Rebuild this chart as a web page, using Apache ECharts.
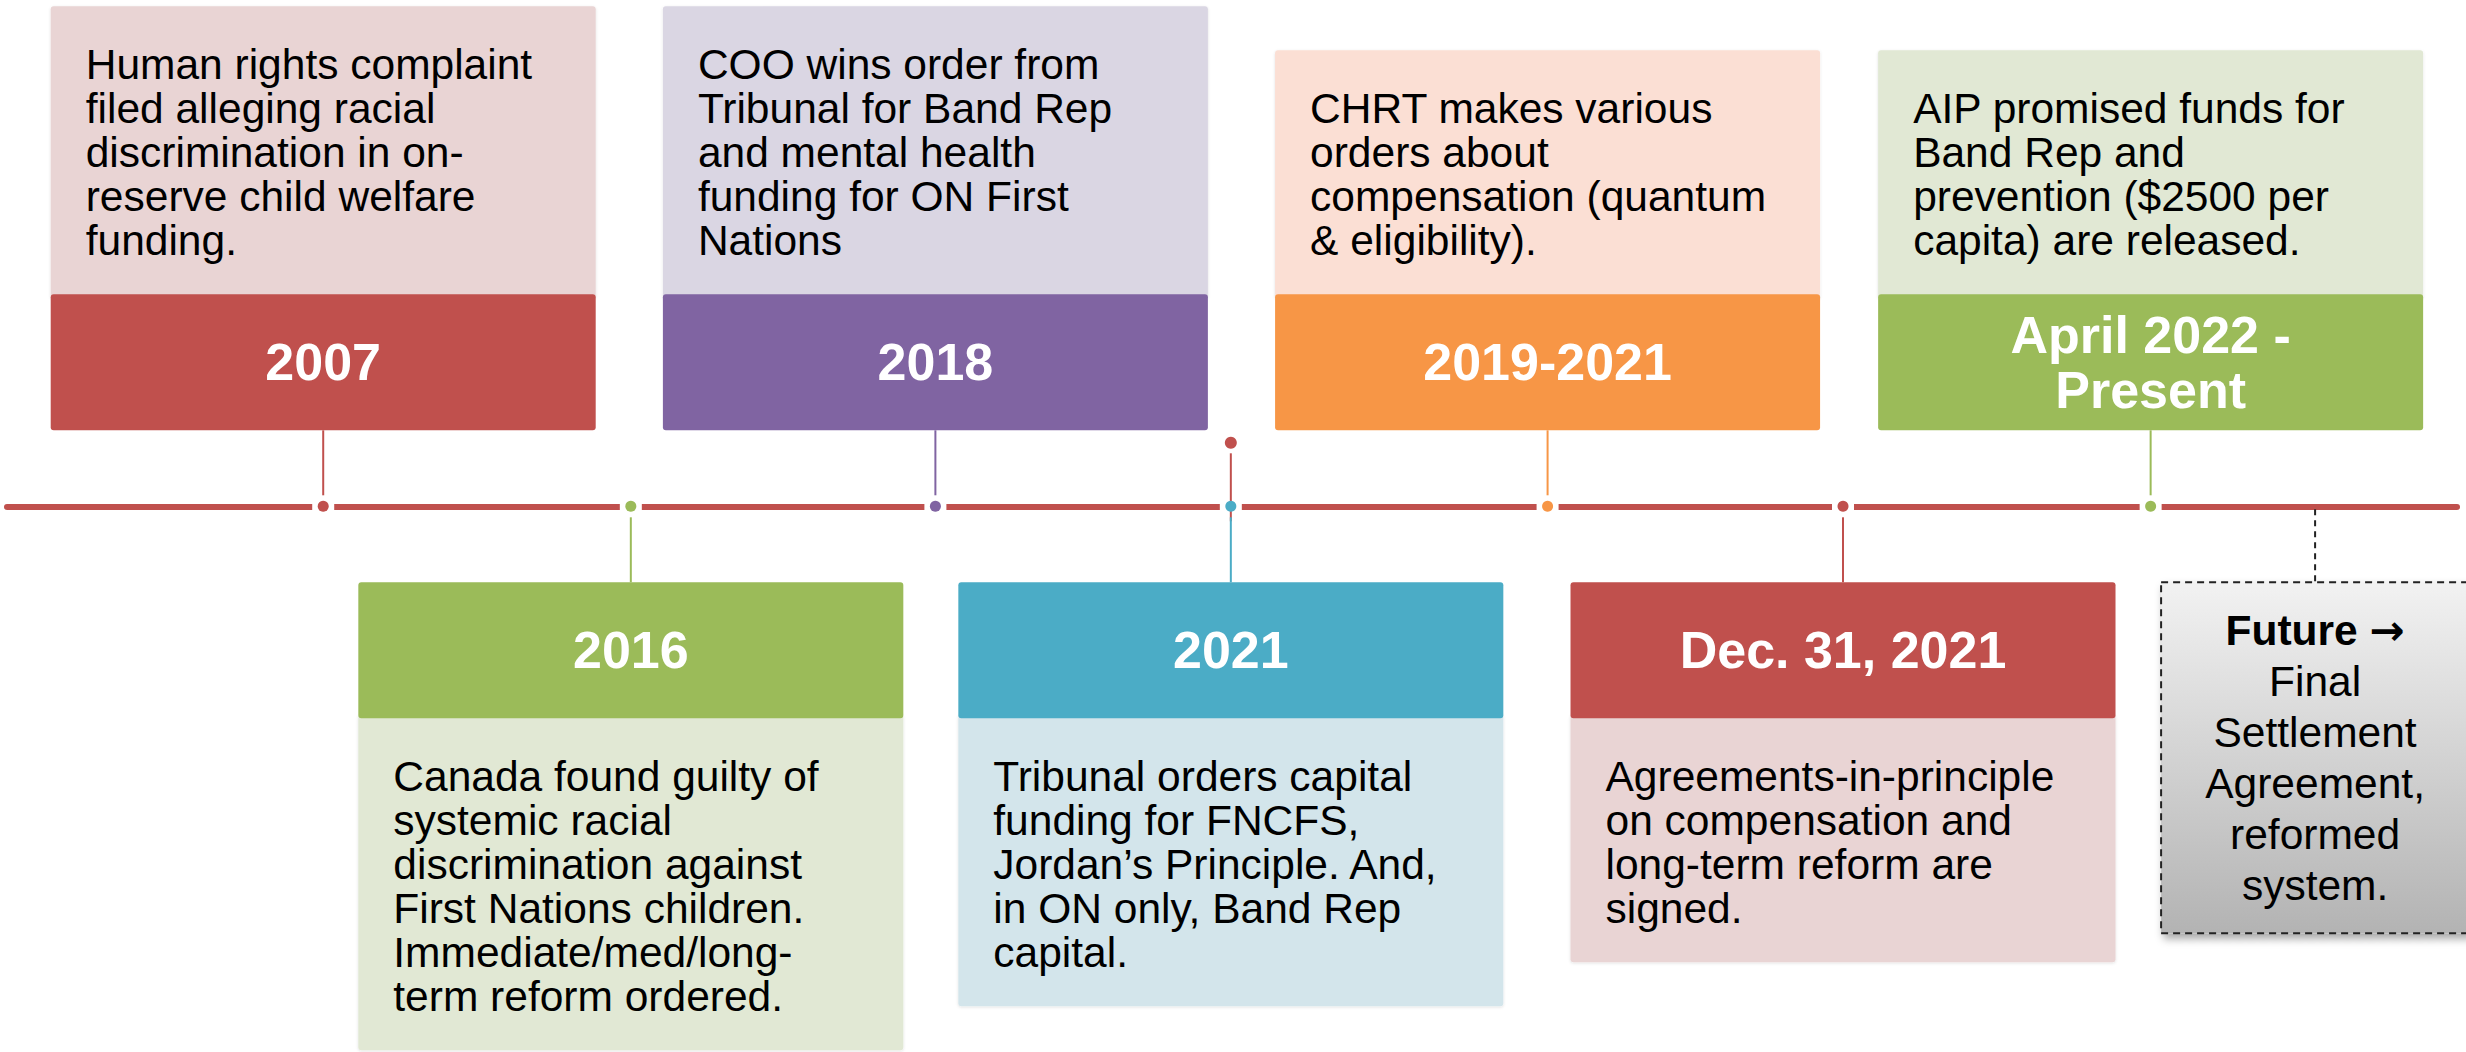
<!DOCTYPE html>
<html>
<head>
<meta charset="utf-8">
<title>Child welfare timeline</title>
<script src="https://cdn.jsdelivr.net/npm/echarts@6/dist/echarts.min.js"></script>
<style>
  html, body { margin: 0; padding: 0; background: #fff; }
  #main { width: 2466px; height: 1052px; }
</style>
</head>
<body>
<div id="main"></div>
<script>
// events in the order they sit on the line, left to right
const eventLabels = ['2007', '2016', '2018', '2021', '2019-2021', 'Dec. 31, 2021', 'April 2022 -\nPresent', 'Future']
// place on the line, 1 unit = gap between two neighbouring events
const eventSlots = [0, 1.01, 2.01, 2.98, 4.02, 4.99, 6, 6.54]
const eventSides = ['top', 'bottom', 'top', 'bottom', 'top', 'bottom', 'top', 'bottom']
const eventTexts = [
  'Human rights complaint\nfiled alleging racial\ndiscrimination in on-\nreserve child welfare\nfunding.',
  'Canada found guilty of\nsystemic racial\ndiscrimination against\nFirst Nations children.\nImmediate/med/long-\nterm reform ordered.',
  'COO wins order from\nTribunal for Band Rep\nand mental health\nfunding for ON First\nNations',
  'Tribunal orders capital\nfunding for FNCFS,\nJordan\u2019s Principle. And,\nin ON only, Band Rep\ncapital.',
  'CHRT makes various\norders about\ncompensation (quantum\n& eligibility).',
  'Agreements-in-principle\non compensation and\nlong-term reform are\nsigned.',
  'AIP promised funds for\nBand Rep and\nprevention ($2500 per\ncapita) are released.',
  'Final\nSettlement\nAgreement,\nreformed\nsystem.'
]
// a loose red dot + stub sitting above the 2021 marker
const strayDotSlots = [2.98]

// styles
const headColors = ['#C0504D', '#9BBB59', '#8064A2', '#4BACC6', '#F79646', '#C0504D', '#9BBB59', '#222222']
const bodyColors = ['#E9D4D4', '#E1E8D4', '#DAD6E3', '#D3E5EB', '#FBDFD4', '#E9D4D4', '#E1E8D4', '#DDDDDD']
const FONT = "'Liberation Sans', Arial, sans-serif"
const BOX_W = 545
const FUT_W = 308
const HEAD_OFF = 76
const HEAD_H = 136
const LINE_H = 44
const FUT_LINE_H = 51
const futureIndex = eventLabels.length - 1

function textStyle(extra) {
  return Object.assign({fill: '#000', font: '42.5px ' + FONT}, extra)
}

function renderEvent(params, api) {
  const i = api.value(2)
  const pt = api.coord([api.value(0), 0])
  const cx = pt[0], cy = pt[1]
  const col = headColors[i]
  const children = []

  if (i === futureIndex) {
    const nLines = eventTexts[i].split('\n').length + 1
    const boxTop = cy + HEAD_OFF
    const boxH = nLines * FUT_LINE_H + 45
    children.push({
      type: 'line',
      shape: {x1: cx, y1: cy + 3, x2: cx, y2: boxTop},
      style: {stroke: col, lineWidth: 2, lineDash: [6, 5]}
    })
    children.push({
      type: 'rect',
      shape: {x: cx - FUT_W / 2, y: boxTop, width: FUT_W, height: boxH},
      style: {
        fill: new echarts.graphic.LinearGradient(0, 0, 0, 1, [
          {offset: 0, color: '#F2F2F2'},
          {offset: 1, color: '#B3B3B3'}
        ]),
        stroke: col, lineWidth: 2, lineDash: [7, 5],
        shadowBlur: 8, shadowColor: 'rgba(0,0,0,0.35)', shadowOffsetX: 3, shadowOffsetY: 5
      }
    })
    children.push({
      type: 'text',
      style: textStyle({
        x: cx, y: boxTop + boxH / 2,
        text: '{b|' + eventLabels[i] + ' }{arr|\u2192}\n' + eventTexts[i],
        align: 'center', textAlign: 'center',
        verticalAlign: 'middle', textVerticalAlign: 'middle',
        lineHeight: FUT_LINE_H,
        rich: {
          b: {font: 'bold 42.5px ' + FONT, fill: '#000', lineHeight: FUT_LINE_H},
          arr: {font: 'bold 42px DejaVu Sans', fill: '#000', lineHeight: FUT_LINE_H}
        }
      })
    })
    return {type: 'group', children: children}
  }

  const up = eventSides[i] === 'top'
  const lines = eventTexts[i].split('\n').length
  const bodyH = lines * LINE_H + 68
  const headTop = up ? cy - HEAD_OFF - HEAD_H : cy + HEAD_OFF
  const headBottom = headTop + HEAD_H
  const bodyTop = up ? headTop - bodyH : headBottom
  const x0 = cx - BOX_W / 2

  // connector between box and line
  children.push({
    type: 'line',
    shape: up ? {x1: cx, y1: headBottom, x2: cx, y2: cy - 11} : {x1: cx, y1: cy + 11, x2: cx, y2: headTop},
    style: {stroke: col, lineWidth: 2}
  })
  // white gap in the line and the dot
  children.push({type: 'rect', shape: {x: cx - 11, y: cy - 4, width: 22, height: 8}, style: {fill: '#fff'}})
  children.push({type: 'circle', shape: {cx: cx, cy: cy, r: 5.5}, style: {fill: col}})

  // light body box (tucked a little under the header)
  children.push({
    type: 'rect',
    shape: {x: x0, y: up ? bodyTop : headBottom - 4, width: BOX_W, height: bodyH + 4, r: 3},
    style: {fill: bodyColors[i], shadowBlur: 3, shadowColor: 'rgba(0,0,0,0.12)', shadowOffsetY: 1}
  })
  children.push({
    type: 'rect',
    shape: {x: x0, y: headTop, width: BOX_W, height: HEAD_H, r: 3},
    style: {fill: col}
  })
  children.push({
    type: 'text',
    style: {
      x: cx, y: headTop + HEAD_H / 2, text: eventLabels[i],
      fill: '#fff', font: 'bold 52px ' + FONT, lineHeight: 55,
      align: 'center', textAlign: 'center', verticalAlign: 'middle', textVerticalAlign: 'middle'
    }
  })
  children.push({
    type: 'text',
    style: textStyle({
      x: x0 + 35, y: bodyTop + 36, text: eventTexts[i], lineHeight: LINE_H,
      align: 'left', textAlign: 'left', verticalAlign: 'top', textVerticalAlign: 'top'
    })
  })
  return {type: 'group', children: children}
}

function renderStray(params, api) {
  const pt = api.coord([api.value(0), 0])
  const cx = pt[0], cy = pt[1]
  return {
    type: 'group',
    children: [
      {type: 'line', shape: {x1: cx, y1: cy - 53, x2: cx, y2: cy + 15}, style: {stroke: '#C0504D', lineWidth: 2}},
      {type: 'circle', shape: {cx: cx, cy: cy - 63.5, r: 6}, style: {fill: '#C0504D'}}
    ]
  }
}

const chart = echarts.init(document.getElementById('main'), null, {renderer: 'svg'})

const option = {
  backgroundColor: '#fff',
  animation: false,
  grid: {left: 7, right: 9, top: 0, height: 1012.6},
  xAxis: {
    type: 'value',
    min: -1.0382,
    max: 7.0059,
    axisLine: {show: true, onZero: true, lineStyle: {color: '#C0504D', width: 6}},
    axisTick: {show: false},
    axisLabel: {show: false},
    splitLine: {show: false}
  },
  yAxis: {
    type: 'value',
    min: -1,
    max: 1,
    show: false
  },
  series: [
    {
      type: 'custom',
      z: 1,
      clip: false,
      renderItem: renderStray,
      data: strayDotSlots.map(s => [s, 0])
    },
    {
      type: 'custom',
      z: 2,
      clip: false,
      renderItem: renderEvent,
      data: eventSlots.map((s, i) => [s, 0, i])
    }
  ]
}

chart.setOption(option)
</script>
</body>
</html>
